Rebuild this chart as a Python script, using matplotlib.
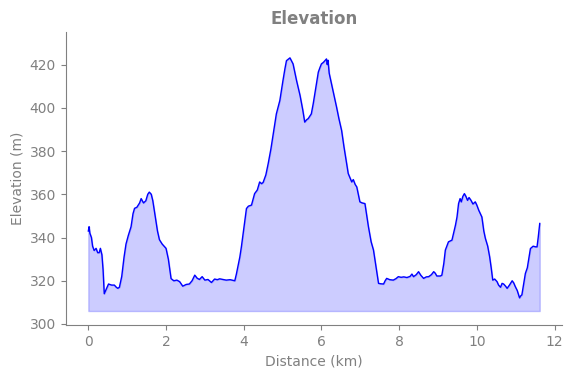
import matplotlib.pyplot as plt

distance_km = [
    0.0, 0.02, 0.04, 0.08, 0.11, 0.15, 0.2, 0.24, 0.28, 0.31, 0.35, 0.38, 0.41, 0.46, 0.52, 0.6,
    0.67, 0.72, 0.76, 0.8, 0.86, 0.92, 0.97, 1.03, 1.1, 1.15, 1.19, 1.25, 1.32, 1.36, 1.42, 1.48,
    1.53, 1.57, 1.62, 1.66, 1.72, 1.78, 1.83, 1.9, 2.0, 2.06, 2.13, 2.2, 2.28, 2.35, 2.43, 2.52,
    2.6, 2.67, 2.74, 2.8, 2.86, 2.93, 3.0, 3.08, 3.17, 3.25, 3.32, 3.38, 3.46, 3.55, 3.65, 3.77,
    3.81, 3.85, 3.9, 3.94, 4.0, 4.07, 4.12, 4.2, 4.28, 4.35, 4.41, 4.46, 4.5, 4.57, 4.63, 4.7,
    4.76, 4.84, 4.93, 5.01, 5.06, 5.1, 5.19, 5.27, 5.32, 5.36, 5.45, 5.52, 5.57, 5.62, 5.66, 5.74,
    5.79, 5.83, 5.88, 5.92, 5.96, 6.0, 6.05, 6.09, 6.13, 6.15, 6.17, 6.2, 6.26, 6.32, 6.39, 6.45,
    6.52, 6.58, 6.65, 6.69, 6.74, 6.78, 6.82, 6.87, 6.91, 6.95, 6.99, 7.05, 7.12, 7.16, 7.21, 7.28,
    7.34, 7.4, 7.47, 7.53, 7.6, 7.64, 7.68, 7.76, 7.85, 7.92, 7.98, 8.05, 8.12, 8.2, 8.28, 8.33,
    8.37, 8.44, 8.5, 8.56, 8.63, 8.7, 8.76, 8.83, 8.89, 8.93, 8.97, 9.06, 9.1, 9.15, 9.19, 9.27,
    9.36, 9.4, 9.45, 9.49, 9.53, 9.57, 9.6, 9.64, 9.68, 9.72, 9.76, 9.8, 9.85, 9.9, 9.96, 10.0,
    10.05, 10.13, 10.18, 10.22, 10.28, 10.33, 10.37, 10.41, 10.46, 10.52, 10.56, 10.61, 10.65, 10.69, 10.74, 10.78,
    10.84, 10.91, 10.95, 10.99, 11.04, 11.1, 11.13, 11.16, 11.2, 11.25, 11.3, 11.38, 11.45, 11.51, 11.55, 11.58,
    11.62,
]
elevation_m = [
    343, 345, 342, 340, 336, 334, 335, 333, 333, 335, 332, 325, 314, 316, 318.5, 318,
    318, 317, 316.5, 317, 322, 331, 337, 341, 345, 351, 353.5, 354, 356, 358, 356, 357,
    360, 361, 360, 357, 350, 343, 339, 337, 335, 330, 321, 320, 320.3, 319.6, 317.5, 318.3,
    318.5, 320, 322.6, 321.2, 320.6, 321.9, 320.3, 320.6, 319.2, 320.8, 320.5, 320.9, 320.6, 320.3, 320.5, 320,
    323, 326.5, 331, 335.7, 344, 353.4, 354.5, 355, 360.3, 362, 365.7, 364.9, 365.5, 369, 374.2, 381,
    388, 397.2, 403.4, 412.6, 418, 421.8, 423.1, 420.3, 416, 412.6, 405.7, 399, 393.4, 394.5, 395, 397.2,
    402, 406.5, 412, 416.5, 418.5, 420.3, 421, 421.8, 422.6, 420, 422, 416, 411.1, 406, 400.3, 395,
    389.5, 382, 374.2, 369.6, 367.5, 365.7, 366.8, 364.5, 363.4, 360, 356.5, 356, 355.7, 351, 345, 338,
    334.2, 327, 318.8, 318.6, 318.5, 320, 321.1, 320.5, 320.3, 321, 321.9, 321.6, 321.8, 321.5, 322, 323.1,
    321.9, 322.8, 324.2, 322.5, 321.1, 321.8, 321.9, 322.8, 324.2, 323.5, 322.2, 322.2, 322.6, 328, 334.2, 338,
    338.8, 341.9, 345.7, 349.5, 355.7, 358, 356.5, 359, 360.3, 359, 357.2, 358.5, 357.2, 355.5, 356.5, 355,
    352.6, 349.5, 343, 339.6, 336, 331.1, 326, 320.3, 320.8, 319.6, 318, 317, 318.8, 318.5, 317.5, 316.5,
    318, 320, 319, 317.3, 315.5, 312.1, 313, 313.5, 318, 323.4, 326, 334.9, 336, 335.7, 335.7, 340,
    346.5,
]
fill_base = 306

fig, ax = plt.subplots(figsize=(5.72, 3.78), dpi=100)
fig.subplots_adjust(left=0.115, right=0.983, top=0.915, bottom=0.14)

ax.plot(distance_km, elevation_m, color='blue', linewidth=1)
ax.fill_between(distance_km, elevation_m, fill_base, color='blue', alpha=0.2)

ax.set_xlim(-0.58, 12.2)
ax.set_ylim(299.5, 435)
ax.set_xticks([0, 2, 4, 6, 8, 10, 12])
ax.set_yticks([300, 320, 340, 360, 380, 400, 420])

ax.set_title('Elevation', color='gray', fontsize=12, fontweight='bold')
ax.set_xlabel('Distance (km)', color='gray', fontsize=10)
ax.set_ylabel('Elevation (m)', color='gray', fontsize=10)
ax.tick_params(colors='gray', labelsize=10)
for side in ['top', 'right']:
    ax.spines[side].set_visible(False)
for side in ['left', 'bottom']:
    ax.spines[side].set_color('gray')

plt.savefig('out.png')
